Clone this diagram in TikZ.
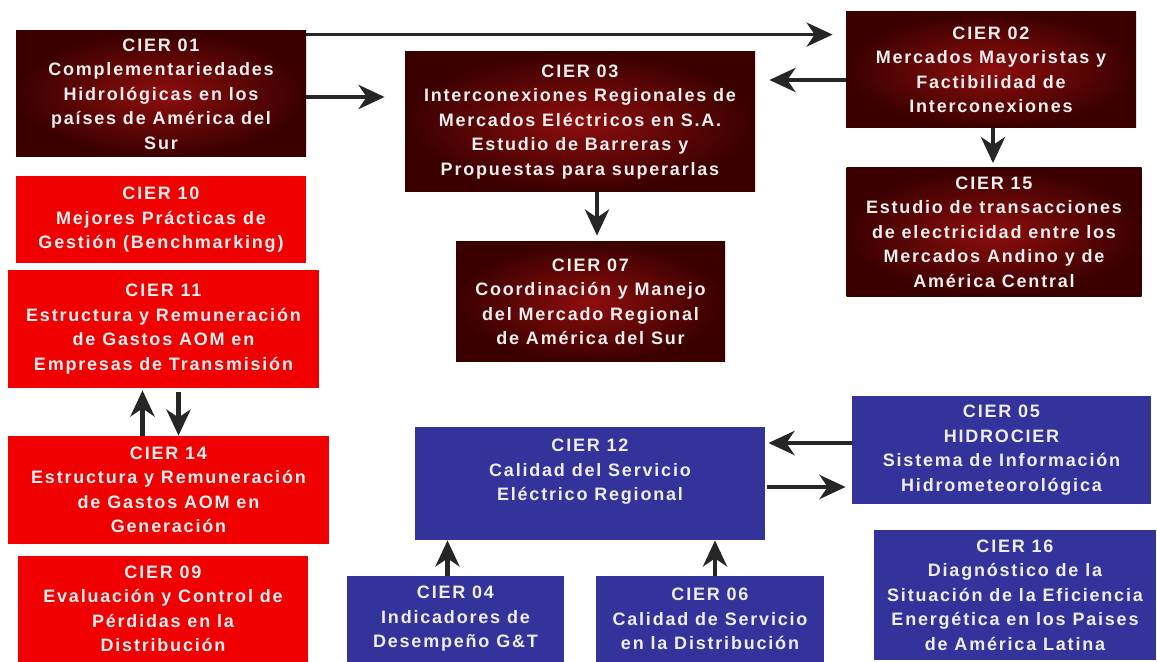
\documentclass[tikz,border=0pt]{standalone}
\usepackage{fontspec}
\newfontfamily\cierfont{Liberation Sans}[LetterSpace=10]
\usepackage{tikz}
\usetikzlibrary{arrows.meta,positioning,calc}

\definecolor{cierdark}{RGB}{142,14,14}
\definecolor{cierdarkedge}{RGB}{58,0,0}
\definecolor{cierred}{RGB}{240,0,0}
\definecolor{cierblue}{RGB}{51,51,155}
\definecolor{ciertext}{RGB}{238,238,238}

\tikzset{
  box/.style={rectangle, inner sep=0pt, align=center, text=ciertext,
    font=\cierfont\bfseries\fontsize{9}{12.25}\selectfont},
  darkbox/.style={box, inner color=cierdark, outer color=cierdarkedge},
  redbox/.style={box, fill=cierred},
  bluebox/.style={box, fill=cierblue},
  flow/.style={-{Stealth[length=13pt,width=12pt,inset=4pt]}, line width=2.3pt, black!85}
}

\begin{document}
\begin{tikzpicture}[x=0.5pt,y=-0.5pt]
    \useasboundingbox[fill=white] (0,0) rectangle (1157,662);

    % dark red group
    \node[darkbox, minimum width=145pt, minimum height=63pt] (c01) at (161,94)
        {CIER 01\\Complementariedades\\Hidrológicas en los\\países de América del\\Sur};
    \node[darkbox, minimum width=175pt, minimum height=70pt] (c03) at (580,122)
        {CIER 03\\Interconexiones Regionales de\\Mercados Eléctricos en S.A.\\Estudio de Barreras y\\Propuestas para superarlas};
    \node[darkbox, minimum width=145pt, minimum height=58pt] (c02) at (991,70)
        {CIER 02\\Mercados Mayoristas y\\Factibilidad de\\Interconexiones};
    \node[darkbox, minimum width=147.5pt, minimum height=64.5pt] (c15) at (994,232)
        {CIER 15\\Estudio de transacciones\\de electricidad entre los\\Mercados Andino y de\\América Central};
    \node[darkbox, minimum width=134.5pt, minimum height=60pt] (c07) at (590.5,302)
        {CIER 07\\Coordinación y Manejo\\del Mercado Regional\\de América del Sur};

    % red group
    \node[redbox, minimum width=145pt, minimum height=43.5pt] (c10) at (161,220)
        {CIER 10\\Mejores Prácticas de\\Gestión (Benchmarking)};
    \node[redbox, minimum width=155.5pt, minimum height=59pt] (c11) at (163.5,329)
        {CIER 11\\Estructura y Remuneración\\de Gastos AOM en\\Empresas de Transmisión};
    \node[redbox, minimum width=160.5pt, minimum height=54pt] (c14) at (168.5,490)
        {CIER 14\\Estructura y Remuneración\\de Gastos AOM en\\Generación};
    \node[redbox, minimum width=145pt, minimum height=53pt] (c09) at (163,609)
        {CIER 09\\Evaluación y Control de\\Pérdidas en la\\Distribución};

    % blue group
    \node[bluebox, minimum width=175pt, minimum height=56.5pt] (c12) at (590,483.5) {};
    \node[box, below=6pt of c12.north] (c12t)
        {CIER 12\\Calidad del Servicio\\Eléctrico Regional};
    \node[bluebox, minimum width=149.5pt, minimum height=54pt] (c05) at (1001.5,450)
        {CIER 05\\HIDROCIER\\Sistema de Información\\Hidrometeorológica};
    \node[bluebox, minimum width=141pt, minimum height=65pt] (c16) at (1015,595)
        {CIER 16\\Diagnóstico de la\\Situación de la Eficiencia\\Energética en los Paises\\de América Latina};
    \node[bluebox, minimum width=108.5pt, minimum height=43pt] (c04) at (455.5,619)
        {CIER 04\\Indicadores de\\Desempeño G\&T};
    \node[bluebox, minimum width=114pt, minimum height=43pt] (c06) at (710,619)
        {CIER 06\\Calidad de Servicio\\en la Distribución};

    % connectors
    \draw[flow, line width=1.6pt, shorten >=6.5pt] ([yshift=-2pt]c01.north east) -- ([yshift=-2pt]c01.north east -| c02.west);
    \draw[flow, shorten >=10pt] ([yshift=-1.5pt]c01.east) -- ([yshift=-1.5pt]c01.east -| c03.west);
    \draw[flow, shorten >=7pt] ([yshift=-5pt]c02.west) -- ([yshift=-5pt]c02.west -| c03.east);
    \draw[flow, shorten >=2pt] ([xshift=1pt]c02.south) -- ([xshift=1pt]c02.south |- c15.north);
    \draw[flow, shorten >=3pt] ([xshift=8.5pt]c03.south) -- ([xshift=8.5pt]c03.south |- c07.north);
    \draw[flow, shorten >=1pt] ([xshift=-13pt]c14.north) -- ([xshift=-13pt]c14.north |- c11.south);
    \draw[flow, shorten <=2pt] ([xshift=5pt]c14.north |- c11.south) -- ([xshift=5pt]c14.north);
    \draw[flow, shorten >=1.5pt] ([yshift=3.5pt]c05.west) -- ([yshift=3.5pt]c05.west -| c12.east);
    \draw[flow, shorten <=1pt, shorten >=3pt] ([yshift=-18.5pt]c05.west -| c12.east) -- ([yshift=-18.5pt]c05.west);
    \draw[flow] ([xshift=-4pt]c04.north) -- ([xshift=-4pt]c04.north |- c12.south);
    \draw[flow] ([xshift=2.5pt]c06.north) -- ([xshift=2.5pt]c06.north |- c12.south);
\end{tikzpicture}
\end{document}
